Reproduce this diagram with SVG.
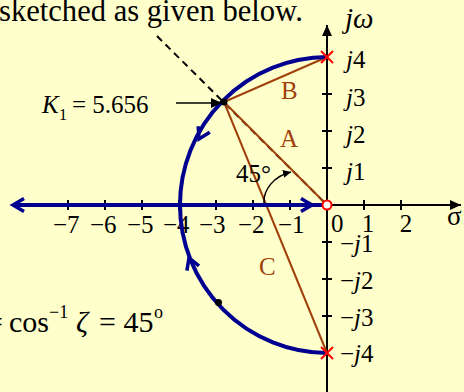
<svg xmlns="http://www.w3.org/2000/svg" width="464" height="392" viewBox="0 0 464 392">
<defs>
<style>
text{font-family:"Liberation Serif","Times New Roman",serif;fill:#000}
.lbl{font-size:25px}
.it{font-style:italic}
.br{fill:#A0400A}
.axis{stroke:#000;stroke-width:2;fill:none}
.tick{stroke:#000;stroke-width:2}
.locus{stroke:#000090;stroke-width:4;fill:none}
.chev{stroke:#000090;stroke-width:3.5;fill:none;stroke-linejoin:miter}
.brl{stroke:#A0400A;stroke-width:2;fill:none}
.pole{stroke:#FF0000;stroke-width:2}
</style>
<marker id="ah" markerWidth="12" markerHeight="10" refX="11" refY="5" orient="auto" markerUnits="userSpaceOnUse">
<path d="M0,0 L11,5 L0,10 Z" fill="#000"/>
</marker>
<marker id="ahs" markerWidth="9" markerHeight="8" refX="8" refY="4" orient="auto" markerUnits="userSpaceOnUse">
<path d="M0,0 L8,4 L0,8 Z" fill="#000"/>
</marker>
<path id="chev" d="M-11,-6.5 L0,0 L-11,6.5"/>
</defs>
<rect x="0" y="0" width="464" height="392" fill="#FFFFCC"/>

<text x="-1" y="21" style="font-size:30.6px">sketched as given below.</text>

<g id="axes">
<line class="axis" x1="12" y1="205" x2="461" y2="205" marker-end="url(#ah)"/>
<line class="axis" x1="327" y1="392" x2="327" y2="25" marker-end="url(#ah)"/>
<g class="tick">
<line x1="68" y1="200" x2="68" y2="210"/>
<line x1="105" y1="200" x2="105" y2="210"/>
<line x1="142" y1="200" x2="142" y2="210"/>
<line x1="179" y1="200" x2="179" y2="210"/>
<line x1="216" y1="200" x2="216" y2="210"/>
<line x1="253" y1="200" x2="253" y2="210"/>
<line x1="290" y1="200" x2="290" y2="210"/>
<line x1="364" y1="200" x2="364" y2="210"/>
<line x1="401" y1="200" x2="401" y2="210"/>
<line x1="322" y1="168" x2="332" y2="168"/>
<line x1="322" y1="131" x2="332" y2="131"/>
<line x1="322" y1="94" x2="332" y2="94"/>
<line x1="322" y1="242" x2="332" y2="242"/>
<line x1="322" y1="279" x2="332" y2="279"/>
<line x1="322" y1="316" x2="332" y2="316"/>
</g>
<g class="lbl">
<text x="53" y="233">−7</text>
<text x="90" y="233">−6</text>
<text x="127" y="233">−5</text>
<text x="163" y="233">−4</text>
<text x="199" y="233">−3</text>
<text x="238" y="233">−2</text>
<text x="278" y="233">−1</text>
<text x="331" y="232">0</text>
<text x="368" y="232" text-anchor="middle">1</text>
<text x="406" y="232" text-anchor="middle">2</text>
<text x="447" y="225" style="font-size:27px">σ</text>
<text x="346" y="68"><tspan class="it">j</tspan>4</text>
<text x="346" y="106"><tspan class="it">j</tspan>3</text>
<text x="346" y="143"><tspan class="it">j</tspan>2</text>
<text x="346" y="180"><tspan class="it">j</tspan>1</text>
<text x="340" y="252">−<tspan class="it">j</tspan>1</text>
<text x="340" y="289">−<tspan class="it">j</tspan>2</text>
<text x="340" y="326">−<tspan class="it">j</tspan>3</text>
<text x="340" y="362">−<tspan class="it">j</tspan>4</text>
</g>
<text x="345" y="28" class="it" style="font-size:29px">jω</text>
</g>

<g id="connectors">
<line x1="157" y1="36" x2="325" y2="203" stroke="#000" stroke-width="2" stroke-dasharray="7,5"/>
<line class="brl" x1="224" y1="102" x2="327" y2="57"/>
<line class="brl" x1="224" y1="102" x2="327" y2="205"/>
<line class="brl" x1="224" y1="102" x2="327" y2="353"/>
<g id="locus">
<path class="locus" d="M327,57 A148,148 0 0 0 180,205 A148,148 0 0 0 327,353"/>
<line class="locus" x1="13" y1="205" x2="323" y2="205"/>
<use href="#chev" class="chev" transform="translate(13,205) rotate(180)"/>
<use href="#chev" class="chev" transform="translate(312,205)"/>
<use href="#chev" class="chev" transform="translate(199,139) rotate(117)"/>
<use href="#chev" class="chev" transform="translate(189,258) rotate(249)"/>
</g>
<line x1="176" y1="103" x2="222" y2="103" stroke="#000" stroke-width="1.5" marker-end="url(#ah)"/>
<path d="M264,203 C263,190 274,176 291,172" stroke="#000" stroke-width="1.5" fill="none" marker-end="url(#ahs)"/>
</g>

<g id="pole-top" class="pole"><line x1="321" y1="51" x2="333" y2="63"/><line x1="333" y1="51" x2="321" y2="63"/></g>
<g id="pole-bottom" class="pole"><line x1="321" y1="347" x2="333" y2="359"/><line x1="333" y1="347" x2="321" y2="359"/></g>
<g id="zero"><circle cx="327" cy="205" r="4.5" fill="#fff" stroke="#FF0000" stroke-width="2"/></g>
<g id="k1-point"><circle cx="224" cy="102" r="3.5" fill="#000"/></g>
<g id="lower-point"><circle cx="218.5" cy="302.5" r="3.5" fill="#000"/></g>

<g id="labels">
<text class="lbl br" x="281" y="99">B</text>
<text class="lbl br" x="280" y="147">A</text>
<text class="lbl br" x="259" y="275">C</text>
<text class="lbl" x="236" y="182">45°</text>
<text class="lbl" x="42" y="113"><tspan class="it">K</tspan><tspan x="59" y="120" style="font-size:16px">1</tspan></text>
<text class="lbl" x="72" y="113">= 5.656</text>
<text x="-14" y="332" style="font-size:30px">=</text>
<text x="9" y="332" style="font-size:30px">cos</text>
<text x="49" y="318" style="font-size:18px">−1</text>
<text x="76" y="332" class="it" style="font-size:30px">ζ</text>
<text x="99" y="332" style="font-size:30px">= 45</text>
<text x="154" y="318" style="font-size:18px">o</text>
</g>
</svg>
